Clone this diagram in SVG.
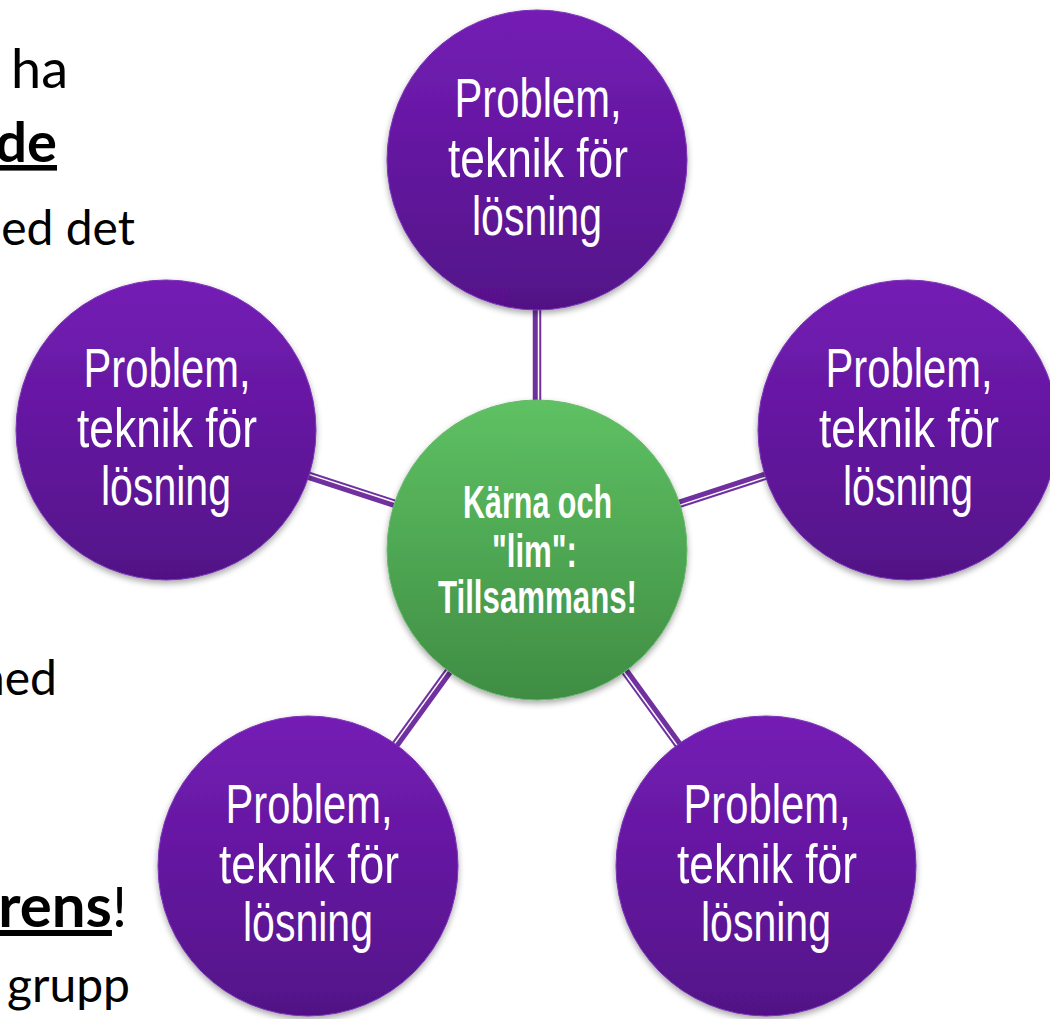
<svg xmlns="http://www.w3.org/2000/svg" width="1050" height="1019" viewBox="0 0 1050 1019">
<defs>
<linearGradient id="gPurple" x1="0" y1="0" x2="0" y2="1">
<stop offset="0" stop-color="#741DB5"/>
<stop offset="1" stop-color="#531188"/>
</linearGradient>
<linearGradient id="gGreen" x1="0" y1="0" x2="0" y2="1">
<stop offset="0" stop-color="#5EC163"/>
<stop offset="1" stop-color="#3F8D43"/>
</linearGradient>
<filter id="shadow" x="-20%" y="-20%" width="140%" height="140%">
<feDropShadow dx="0" dy="3" stdDeviation="3" flood-color="#000" flood-opacity="0.35"/>
</filter>
</defs>
<style>
.side{font-family:Lato,"Open Sans","Liberation Sans",sans-serif;fill:#000;text-anchor:end}
.b{font-weight:bold}
.nodeP{fill:url(#gPurple);stroke:#7A34B5;stroke-width:1;filter:url(#shadow)}
.nodeG{fill:url(#gGreen);stroke:#67B86A;stroke-width:1;filter:url(#shadow)}
.pt{font-family:"Liberation Sans",Arial,sans-serif;font-size:55px;fill:#fff;text-anchor:middle}
.gt{font-family:"Liberation Sans",Arial,sans-serif;font-size:46px;font-weight:bold;fill:#fff;text-anchor:middle}
.cw{stroke:#7030A0;stroke-width:8.5}
.cl{stroke:#fff;stroke-width:1.5}
</style>
<rect width="1050" height="1019" fill="#fff"/>
<g id="background-text">
<text class="side" x="68" y="88" font-size="54">ha</text>
<text class="side b" x="57" y="162" font-size="56" text-decoration="underline">de</text>
<text class="side" x="135" y="245" font-size="48">ed det</text>
<text class="side" x="57" y="695" font-size="48">ned</text>
<text class="side" x="127" y="927" font-size="56"><tspan class="b" font-size="60" text-decoration="underline">rens</tspan>!</text>
<text class="side" x="130" y="1002" font-size="48">grupp</text>
</g>
<g id="connectors">
<g transform="rotate(-90 537 550)"><line class="cw" x1="682" y1="550" x2="782" y2="550"/><line class="cl" x1="682" y1="551.5" x2="782" y2="551.5"/></g>
<g transform="rotate(-18 537 550)"><line class="cw" x1="682" y1="550" x2="782" y2="550"/><line class="cl" x1="682" y1="551.5" x2="782" y2="551.5"/></g>
<g transform="rotate(54 537 550)"><line class="cw" x1="682" y1="550" x2="782" y2="550"/><line class="cl" x1="682" y1="551.5" x2="782" y2="551.5"/></g>
<g transform="rotate(126 537 550)"><line class="cw" x1="682" y1="550" x2="782" y2="550"/><line class="cl" x1="682" y1="551.5" x2="782" y2="551.5"/></g>
<g transform="rotate(198 537 550)"><line class="cw" x1="682" y1="550" x2="782" y2="550"/><line class="cl" x1="682" y1="551.5" x2="782" y2="551.5"/></g>
</g>
<g id="node-top">
<circle class="nodeP" cx="537" cy="160" r="150"/>
<text class="pt" x="538" y="117" textLength="167" lengthAdjust="spacingAndGlyphs">Problem,</text>
<text class="pt" x="538" y="177" textLength="180" lengthAdjust="spacingAndGlyphs">teknik för</text>
<text class="pt" x="537" y="235" textLength="130" lengthAdjust="spacingAndGlyphs">lösning</text>
</g>
<g id="node-right">
<circle class="nodeP" cx="908" cy="430" r="150"/>
<text class="pt" x="909" y="387" textLength="167" lengthAdjust="spacingAndGlyphs">Problem,</text>
<text class="pt" x="909" y="447" textLength="180" lengthAdjust="spacingAndGlyphs">teknik för</text>
<text class="pt" x="908" y="505" textLength="130" lengthAdjust="spacingAndGlyphs">lösning</text>
</g>
<g id="node-bottom-right">
<circle class="nodeP" cx="766" cy="866" r="150"/>
<text class="pt" x="767" y="823" textLength="167" lengthAdjust="spacingAndGlyphs">Problem,</text>
<text class="pt" x="767" y="883" textLength="180" lengthAdjust="spacingAndGlyphs">teknik för</text>
<text class="pt" x="766" y="941" textLength="130" lengthAdjust="spacingAndGlyphs">lösning</text>
</g>
<g id="node-bottom-left">
<circle class="nodeP" cx="308" cy="866" r="150"/>
<text class="pt" x="309" y="823" textLength="167" lengthAdjust="spacingAndGlyphs">Problem,</text>
<text class="pt" x="309" y="883" textLength="180" lengthAdjust="spacingAndGlyphs">teknik för</text>
<text class="pt" x="308" y="941" textLength="130" lengthAdjust="spacingAndGlyphs">lösning</text>
</g>
<g id="node-left">
<circle class="nodeP" cx="166" cy="430" r="150"/>
<text class="pt" x="167" y="387" textLength="167" lengthAdjust="spacingAndGlyphs">Problem,</text>
<text class="pt" x="167" y="447" textLength="180" lengthAdjust="spacingAndGlyphs">teknik för</text>
<text class="pt" x="166" y="505" textLength="130" lengthAdjust="spacingAndGlyphs">lösning</text>
</g>
<g id="node-center">
<circle class="nodeG" cx="537" cy="550" r="150"/>
<text class="gt" x="537.5" y="518" textLength="149" lengthAdjust="spacingAndGlyphs">Kärna och</text>
<text class="gt" x="534.5" y="567" textLength="85" lengthAdjust="spacingAndGlyphs">"lim":</text>
<text class="gt" x="537.5" y="613" textLength="199" lengthAdjust="spacingAndGlyphs">Tillsammans!</text>
</g>
</svg>
